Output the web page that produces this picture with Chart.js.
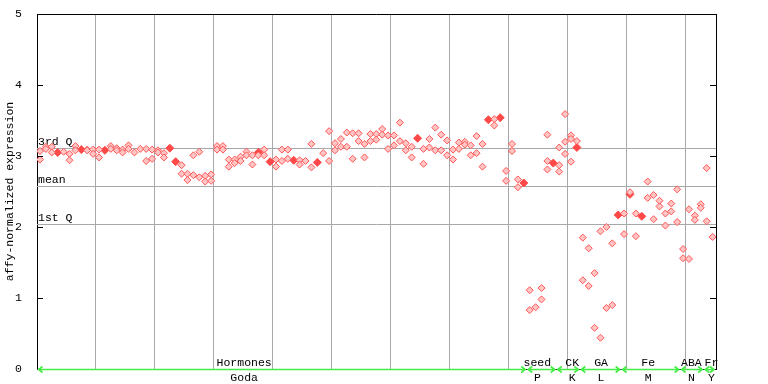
<!DOCTYPE html>
<html><head><meta charset="utf-8">
<script src="https://cdn.jsdelivr.net/npm/chart.js@4/dist/chart.umd.min.js"></script>
<style>html,body{margin:0;padding:0;background:#fff;}canvas{display:block;}</style>
</head><body>
<canvas id="c" width="768" height="384"></canvas>
<script>
// ---- data ----
const sampleCount = 115;
const rep1 = [
3.07,3.13,3.13,3.05,3.06,3.03,3.14,3.09,3.09,3.09,
3.09,3.08,3.14,3.11,3.09,3.15,3.05,3.10,3.10,3.09,
3.08,3.04,3.11,2.92,2.87,2.75,3.01,3.06,2.72,2.74,
3.14,3.14,2.95,2.95,2.99,3.06,3.01,3.05,3.09,2.92,
2.95,3.09,3.09,2.94,2.94,2.93,3.17,2.91,3.04,3.35,
3.18,3.24,3.33,3.32,3.32,3.17,3.31,3.31,3.38,3.29,
3.29,3.47,3.18,3.13,3.25,3.10,3.24,3.40,3.30,3.22,
3.09,3.19,3.20,3.15,3.28,3.17,3.51,3.52,3.54,2.79,
3.17,2.67,2.62,1.11,0.87,1.14,3.30,2.90,3.12,3.59,
3.29,3.21,1.85,1.70,1.35,1.94,2.00,1.77,2.17,2.19,
2.49,2.19,2.15,2.64,2.45,2.37,2.19,2.33,2.53,1.69,
2.25,2.16,2.32,2.83,1.86];
const rep2 = [
2.95,3.10,3.05,3.05,null,2.94,3.08,3.09,3.08,3.03,
2.98,3.08,3.10,3.08,3.05,3.10,null,null,2.93,2.96,
3.05,2.98,3.11,2.92,2.75,2.66,2.73,2.70,2.64,2.65,
3.09,3.09,2.85,2.90,2.93,3.01,2.88,3.05,3.01,2.92,
2.85,2.93,2.96,2.94,2.88,null,2.84,2.91,null,2.93,
3.08,3.13,3.13,2.96,3.21,2.98,3.21,3.23,3.30,3.10,
3.15,3.21,3.08,2.98,3.25,2.89,3.12,3.08,3.08,3.01,
2.95,3.10,3.16,3.01,3.04,2.85,3.51,3.43,3.54,2.65,
3.07,2.56,2.62,0.83,null,0.98,2.93,2.90,2.87,3.20,
3.24,3.12,1.25,1.17,0.58,0.44,0.86,0.90,2.17,1.90,
2.46,1.87,2.15,2.41,2.11,2.29,2.02,2.22,2.07,1.56,
1.55,2.10,2.27,2.08,null];
const rep3 = new Array(115).fill(null);
rep3[37] = 3.01; rep3[86] = 2.81; rep3[88] = 2.78; rep3[89] = 3.03;
rep3[90] = 2.92; rep3[91] = 3.12; rep3[100] = 2.46;

const yTicks = [0, 1, 2, 3, 4, 5];
const refValues = [3.11, 2.58, 2.04];
const refLabels = ['3rd Q', 'mean', '1st Q'];
const groupNames = ['Hormones', 'seed', 'CK', 'GA', 'Fe', 'ABA', 'Fr'];
const groupSources = ['Goda', 'P', 'K', 'L', 'M', 'N', 'Y'];
const groupStart = [0, 83, 88, 92, 99, 109, 113];
const groupEnd = [82, 87, 91, 98, 108, 112, 114];
const yTitle = 'affy-normalized expression';

// ---- layout / style ----
const labelAnchor = [34.6, 84.3, 90.2, 95.1, 103.1, 110.4, 113.8];
const FAMILY = '"Liberation Mono", "DejaVu Sans Mono", monospace';
const FONT = '11.5px ' + FAMILY;
Chart.defaults.font.family = FAMILY;
Chart.defaults.font.size = 11.5;

function buildPoints(solid) {
  const pts = [];
  for (let i = 0; i < sampleCount; i++) {
    const vals = [rep1[i], rep2[i], rep3[i]].filter(v => v != null);
    const seen = new Set();
    vals.forEach(v => {
      if (seen.has(v)) return;
      seen.add(v);
      const dup = vals.filter(w => w === v).length > 1;
      if (dup === solid) pts.push({x: i, y: v});
    });
  }
  return pts;
}

const decor = {
  id: 'decor',
  beforeDatasetsDraw(chart) {
    const {ctx, chartArea: a, scales: {y}} = chart;
    ctx.save();
    ctx.strokeStyle = '#a8a8a8'; ctx.lineWidth = 1;
    refValues.forEach(v => {
      const py = Math.round(y.getPixelForValue(v)) + 0.5;
      ctx.beginPath(); ctx.moveTo(a.left, py); ctx.lineTo(a.right, py); ctx.stroke();
    });
    ctx.fillStyle = '#000'; ctx.font = FONT; ctx.textAlign = 'left'; ctx.textBaseline = 'alphabetic';
    refValues.forEach((v, k) => {
      ctx.fillText(refLabels[k], a.left + 1, y.getPixelForValue(v) - 3);
    });
    ctx.restore();
  },
  afterDraw(chart) {
    const {ctx, chartArea: a, scales: {x, y}} = chart;
    ctx.save();
    ctx.strokeStyle = '#000'; ctx.lineWidth = 1;
    ctx.beginPath();
    ctx.moveTo(a.left, Math.round(a.top) + 0.5); ctx.lineTo(a.right + 0.5, Math.round(a.top) + 0.5);
    ctx.moveTo(Math.round(a.right) + 0.5, a.top); ctx.lineTo(Math.round(a.right) + 0.5, a.bottom);
    yTicks.forEach(v => {
      const py = Math.round(y.getPixelForValue(v)) + 0.5;
      ctx.moveTo(a.left, py); ctx.lineTo(a.left + 6, py);
      ctx.moveTo(a.right, py); ctx.lineTo(a.right - 6, py);
    });
    ctx.stroke();
    // group arrows
    const by = Math.round(a.bottom) + 0.5;
    ctx.strokeStyle = '#44ee44'; ctx.lineWidth = 1.6;
    groupStart.forEach((s, k) => {
      const x1 = x.getPixelForValue(s - 0.5) + 1.5;
      const x2 = x.getPixelForValue(groupEnd[k] + 0.5) - 1.5;
      ctx.beginPath();
      ctx.moveTo(x1, by); ctx.lineTo(x2, by);
      ctx.moveTo(x1 + 4, by - 3); ctx.lineTo(x1, by); ctx.lineTo(x1 + 4, by + 3);
      ctx.moveTo(x2 - 4, by - 3); ctx.lineTo(x2, by); ctx.lineTo(x2 - 4, by + 3);
      ctx.stroke();
    });
    ctx.fillStyle = '#000'; ctx.font = FONT; ctx.textAlign = 'center'; ctx.textBaseline = 'alphabetic';
    groupNames.forEach((n, k) => {
      const px = x.getPixelForValue(labelAnchor[k]);
      ctx.fillText(n, px, a.bottom - 3);
      ctx.fillText(groupSources[k], px, a.bottom + 12);
    });
    ctx.restore();
  }
};

new Chart(document.getElementById('c'), {
  type: 'scatter',
  data: {datasets: [
    {data: buildPoints(false), pointStyle: 'rectRot', pointRadius: 3.5, borderWidth: 1,
     borderColor: '#ff5555', backgroundColor: '#ffc4c4'},
    {data: buildPoints(true), pointStyle: 'rectRot', pointRadius: 4, borderWidth: 1,
     borderColor: '#ff4848', backgroundColor: '#ff4848'}
  ]},
  options: {
    responsive: false, animation: false, events: [],
    layout: {padding: {top: 14, right: 52, left: 0, bottom: 0}},
    plugins: {legend: {display: false}, tooltip: {enabled: false}},
    scales: {
      x: {
        type: 'linear', min: -0.51, max: 114.58,
        afterBuildTicks: ax => { const t = []; for (let v = 9.49; v < 114; v += 10) t.push({value: v}); ax.ticks = t; },
        ticks: {display: false},
        grid: {color: '#a8a8a8', drawTicks: false, lineWidth: 1},
        border: {display: true, color: '#000', width: 1},
        afterFit: s => { s.height = 15; }
      },
      y: {
        min: 0, max: 5,
        afterBuildTicks: ax => { ax.ticks = yTicks.map(v => ({value: v})); },
        ticks: {padding: 7, color: '#000', font: {size: 11.5}},
        grid: {display: false},
        border: {display: true, color: '#000', width: 1},
        title: {display: true, text: yTitle, color: '#000', font: {size: 11.5}, padding: {top: 3, bottom: 0}},
        afterFit: s => { s.width = 37; }
      }
    }
  },
  plugins: [decor]
});
</script>
</body></html>
